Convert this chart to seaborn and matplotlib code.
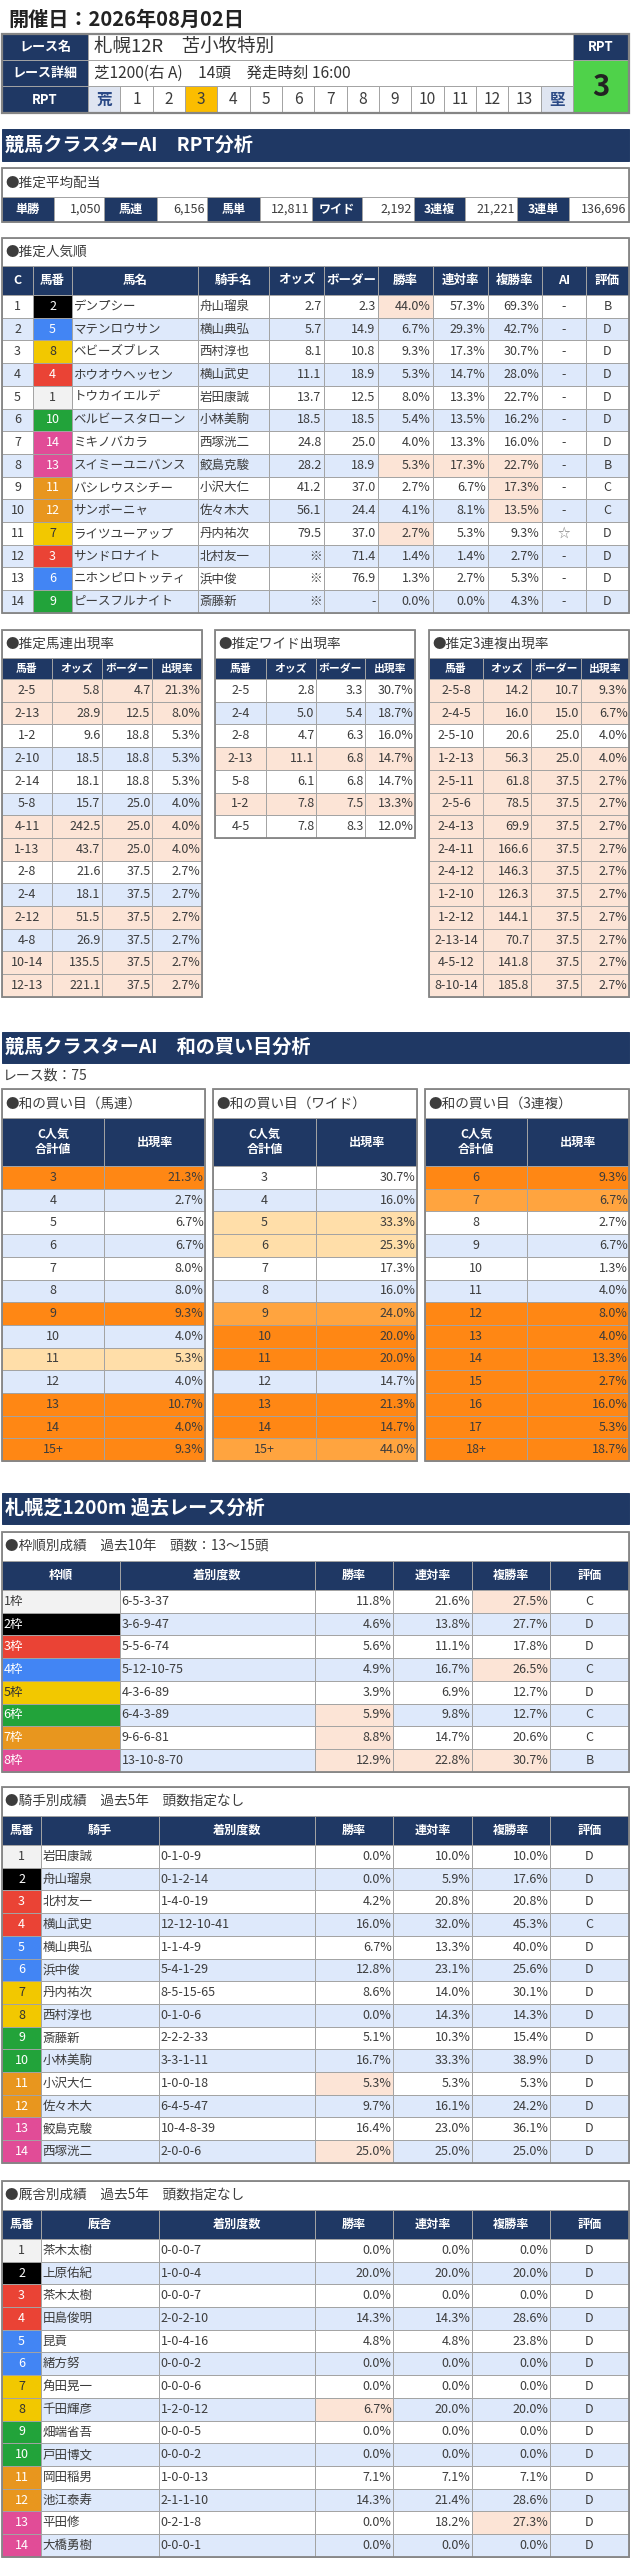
import matplotlib
matplotlib.use('Agg')
import matplotlib.pyplot as plt
from matplotlib.patches import Rectangle
import seaborn as sns

sns.set_theme(style='white')
plt.rcParams['font.family'] = ['Noto Sans CJK JP', 'DejaVu Sans']

# ---------------- data ----------------
race_date = '開催日：2026年08月02日'
race_name = '札幌12R　苫小牧特別'
race_detail = '芝1200(右 A)　14頭　発走時刻 16:00'
rpt_scale = ['荒', '1', '2', '3', '4', '5', '6', '7', '8', '9', '10', '11', '12', '13', '堅']
rpt_value = '3'

payout_labels = ['単勝', '馬連', '馬単', 'ワイド', '3連複', '3連単']
payout_values = [1050, 6156, 12811, 2192, 21221, 136696]

# 推定人気順
pop_umaban = [2, 5, 8, 4, 1, 10, 14, 13, 11, 12, 7, 3, 6, 9]
pop_names = ['デンプシー', 'マテンロウサン', 'ベビーズブレス', 'ホウオウヘッセン', 'トウカイエルデ',
             'ベルビースタローン', 'ミキノバカラ', 'スイミーユニバンス', 'バシレウスシチー', 'サンポーニャ',
             'ライツユーアップ', 'サンドロナイト', 'ニホンピロトッティ', 'ピースフルナイト']
pop_jockeys = ['舟山瑠泉', '横山典弘', '西村淳也', '横山武史', '岩田康誠', '小林美駒', '西塚洸二',
               '鮫島克駿', '小沢大仁', '佐々木大', '丹内祐次', '北村友一', '浜中俊', '斎藤新']
pop_odds = [2.7, 5.7, 8.1, 11.1, 13.7, 18.5, 24.8, 28.2, 41.2, 56.1, 79.5, None, None, None]
pop_border = [2.3, 14.9, 10.8, 18.9, 12.5, 18.5, 25.0, 18.9, 37.0, 24.4, 37.0, 71.4, 76.9, None]
pop_win = [44.0, 6.7, 9.3, 5.3, 8.0, 5.4, 4.0, 5.3, 2.7, 4.1, 2.7, 1.4, 1.3, 0.0]
pop_ren = [57.3, 29.3, 17.3, 14.7, 13.3, 13.5, 13.3, 17.3, 6.7, 8.1, 5.3, 1.4, 2.7, 0.0]
pop_fuku = [69.3, 42.7, 30.7, 28.0, 22.7, 16.2, 16.0, 22.7, 17.3, 13.5, 9.3, 2.7, 5.3, 4.3]
pop_ai = ['-', '-', '-', '-', '-', '-', '-', '-', '-', '-', '☆', '-', '-', '-']
pop_eval = ['B', 'D', 'D', 'D', 'D', 'D', 'D', 'B', 'C', 'C', 'D', 'D', 'D', 'D']
pop_mark = ['w', '', '', '', '', '', '', 'wrf', 'f', 'f', 'w', '', '', '']

# 推定馬連 / ワイド / 3連複 出現率
umaren_combo = ['2-5', '2-13', '1-2', '2-10', '2-14', '5-8', '4-11', '1-13', '2-8', '2-4',
                '2-12', '4-8', '10-14', '12-13']
umaren_odds = [5.8, 28.9, 9.6, 18.5, 18.1, 15.7, 242.5, 43.7, 21.6, 18.1, 51.5, 26.9, 135.5, 221.1]
umaren_border = [4.7, 12.5, 18.8, 18.8, 18.8, 25.0, 25.0, 25.0, 37.5, 37.5, 37.5, 37.5, 37.5, 37.5]
umaren_rate = [21.3, 8.0, 5.3, 5.3, 5.3, 4.0, 4.0, 4.0, 2.7, 2.7, 2.7, 2.7, 2.7, 2.7]

wide_combo = ['2-5', '2-4', '2-8', '2-13', '5-8', '1-2', '4-5']
wide_odds = [2.8, 5.0, 4.7, 11.1, 6.1, 7.8, 7.8]
wide_border = [3.3, 5.4, 6.3, 6.8, 6.8, 7.5, 8.3]
wide_rate = [30.7, 18.7, 16.0, 14.7, 14.7, 13.3, 12.0]

trio_combo = ['2-5-8', '2-4-5', '2-5-10', '1-2-13', '2-5-11', '2-5-6', '2-4-13', '2-4-11',
              '2-4-12', '1-2-10', '1-2-12', '2-13-14', '4-5-12', '8-10-14']
trio_odds = [14.2, 16.0, 20.6, 56.3, 61.8, 78.5, 69.9, 166.6, 146.3, 126.3, 144.1, 70.7, 141.8, 185.8]
trio_border = [10.7, 15.0, 25.0, 25.0, 37.5, 37.5, 37.5, 37.5, 37.5, 37.5, 37.5, 37.5, 37.5, 37.5]
trio_rate = [9.3, 6.7, 4.0, 4.0, 2.7, 2.7, 2.7, 2.7, 2.7, 2.7, 2.7, 2.7, 2.7, 2.7]

# 和の買い目 (level: 0 none, 1 light, 2 mid, 3 strong)
race_count = 75
sum_umaren = ['3', '4', '5', '6', '7', '8', '9', '10', '11', '12', '13', '14', '15+']
sum_umaren_rate = [21.3, 2.7, 6.7, 6.7, 8.0, 8.0, 9.3, 4.0, 5.3, 4.0, 10.7, 4.0, 9.3]
sum_umaren_lvl = [3, 0, 0, 0, 0, 0, 3, 0, 1, 0, 3, 3, 3]
sum_wide = ['3', '4', '5', '6', '7', '8', '9', '10', '11', '12', '13', '14', '15+']
sum_wide_rate = [30.7, 16.0, 33.3, 25.3, 17.3, 16.0, 24.0, 20.0, 20.0, 14.7, 21.3, 14.7, 44.0]
sum_wide_lvl = [0, 0, 1, 1, 0, 0, 2, 3, 3, 0, 3, 3, 2]
sum_trio = ['6', '7', '8', '9', '10', '11', '12', '13', '14', '15', '16', '17', '18+']
sum_trio_rate = [9.3, 6.7, 2.7, 6.7, 1.3, 4.0, 8.0, 4.0, 13.3, 2.7, 16.0, 5.3, 18.7]
sum_trio_lvl = [3, 2, 0, 0, 0, 0, 3, 3, 3, 3, 3, 3, 3]

# 枠順別成績
waku_record = ['6-5-3-37', '3-6-9-47', '5-5-6-74', '5-12-10-75', '4-3-6-89', '6-4-3-89',
               '9-6-6-81', '13-10-8-70']
waku_win = [11.8, 4.6, 5.6, 4.9, 3.9, 5.9, 8.8, 12.9]
waku_ren = [21.6, 13.8, 11.1, 16.7, 6.9, 9.8, 14.7, 22.8]
waku_fuku = [27.5, 27.7, 17.8, 26.5, 12.7, 12.7, 20.6, 30.7]
waku_eval = ['C', 'D', 'D', 'C', 'D', 'C', 'C', 'B']
waku_mark = ['f', '', '', 'f', '', 'w', 'w', 'wrf']

# 騎手別成績
jockey_names = ['岩田康誠', '舟山瑠泉', '北村友一', '横山武史', '横山典弘', '浜中俊', '丹内祐次',
                '西村淳也', '斎藤新', '小林美駒', '小沢大仁', '佐々木大', '鮫島克駿', '西塚洸二']
jockey_record = ['0-1-0-9', '0-1-2-14', '1-4-0-19', '12-12-10-41', '1-1-4-9', '5-4-1-29',
                 '8-5-15-65', '0-1-0-6', '2-2-2-33', '3-3-1-11', '1-0-0-18', '6-4-5-47',
                 '10-4-8-39', '2-0-0-6']
jockey_win = [0.0, 0.0, 4.2, 16.0, 6.7, 12.8, 8.6, 0.0, 5.1, 16.7, 5.3, 9.7, 16.4, 25.0]
jockey_ren = [10.0, 5.9, 20.8, 32.0, 13.3, 23.1, 14.0, 14.3, 10.3, 33.3, 5.3, 16.1, 23.0, 25.0]
jockey_fuku = [10.0, 17.6, 20.8, 45.3, 40.0, 25.6, 30.1, 14.3, 15.4, 38.9, 5.3, 24.2, 36.1, 25.0]
jockey_eval = ['D', 'D', 'D', 'C', 'D', 'D', 'D', 'D', 'D', 'D', 'D', 'D', 'D', 'D']
jockey_mark = ['', '', '', '', '', '', '', '', '', '', 'w', '', '', 'w']

# 厩舎別成績
trainer_names = ['茶木太樹', '上原佑紀', '茶木太樹', '田島俊明', '昆貢', '緒方努', '角田晃一',
                 '千田輝彦', '畑端省吾', '戸田博文', '岡田稲男', '池江泰寿', '平田修', '大橋勇樹']
trainer_record = ['0-0-0-7', '1-0-0-4', '0-0-0-7', '2-0-2-10', '1-0-4-16', '0-0-0-2', '0-0-0-6',
                  '1-2-0-12', '0-0-0-5', '0-0-0-2', '1-0-0-13', '2-1-1-10', '0-2-1-8', '0-0-0-1']
trainer_win = [0.0, 20.0, 0.0, 14.3, 4.8, 0.0, 0.0, 6.7, 0.0, 0.0, 7.1, 14.3, 0.0, 0.0]
trainer_ren = [0.0, 20.0, 0.0, 14.3, 4.8, 0.0, 0.0, 20.0, 0.0, 0.0, 7.1, 21.4, 18.2, 0.0]
trainer_fuku = [0.0, 20.0, 0.0, 28.6, 23.8, 0.0, 0.0, 20.0, 0.0, 0.0, 7.1, 28.6, 27.3, 0.0]
trainer_eval = ['D'] * 14
trainer_mark = ['', '', '', '', '', '', '', 'w', '', '', '', '', 'f', '']

# ---------------- style ----------------
NAVY = '#1f3864'
ROW_BLUE = '#dee9fb'
PINK = '#fce4d6'
GRID = '#a3a3a3'
BORDER = '#858585'
TEXT = '#3c3c3c'
ORANGES = {1: '#ffdea9', 2: '#ffa43f', 3: '#ff8714'}
FRAME_BG = {1: '#f2f2f2', 2: '#000000', 3: '#ea4335', 4: '#4285f4',
            5: '#f2c800', 6: '#22a33a', 7: '#e8961e', 8: '#e14c97'}
FRAME_FG = {1: TEXT, 2: 'white', 3: 'white', 4: 'white', 5: '#333333',
            6: 'white', 7: 'white', 8: 'white'}
horse_frame = {1: 1, 2: 2, 3: 3, 4: 3, 5: 4, 6: 4, 7: 5, 8: 5,
               9: 6, 10: 6, 11: 7, 12: 7, 13: 8, 14: 8}
ROW_H = 22.7
FS = 9.0
HFS = 8.7
RIGHT = 629

fig = plt.figure(figsize=(6.31, 25.6), dpi=100)
fig.patch.set_facecolor('white')
ax = fig.add_axes([0, 0, 1, 1])
ax.set_xlim(0, 631)
ax.set_ylim(2560, 0)
ax.axis('off')


def cell(x0, x1, y0, y1, fc='white', txt=None, ha='center', tc=TEXT, fs=FS,
         bold=False, ec=GRID, lw=0.7, pad=2.5):
    ax.add_patch(Rectangle((x0, y0), x1 - x0, y1 - y0, facecolor=fc,
                           edgecolor=ec, linewidth=lw))
    if txt is None:
        return
    tx = {'center': (x0 + x1) / 2, 'left': x0 + pad, 'right': x1 - pad}[ha]
    ax.text(tx, (y0 + y1) / 2, txt, ha=ha, va='center', color=tc, fontsize=fs,
            fontweight='bold' if bold else 'normal', linespacing=1.3)


def frame_box(x0, x1, y0, y1, lw=1.3):
    ax.add_patch(Rectangle((x0, y0), x1 - x0, y1 - y0, facecolor='none',
                           edgecolor=BORDER, linewidth=lw, zorder=5))


def box_title(x0, x1, y0, y1, txt, fs=9.8):
    cell(x0, x1, y0, y1, 'white', txt, 'left', TEXT, fs, pad=3)


def header(edges, y0, y1, labels, fs=HFS):
    for j, lab in enumerate(labels):
        cell(edges[j], edges[j + 1], y0, y1, NAVY, lab, 'center', 'white', fs, True)


def section_bar(y0, y1, txt):
    cell(2, RIGHT, y0, y1, NAVY, txt, 'left', 'white', 13.8, True, ec=NAVY, pad=3)


def pct(v):
    return f'{v:.1f}%'


def num(v):
    return '※' if v is None else f'{v:.1f}'


# ---------------- race info ----------------
ax.text(8, 19, race_date, ha='left', va='center', fontsize=14.5, fontweight='bold', color='#222222')

L0, L1, R0, R1 = 2, 88, 573, RIGHT
cell(L0, L1, 34, 60, NAVY, 'レース名', tc='white', fs=9.4, bold=True)
cell(L0, L1, 60, 86, NAVY, 'レース詳細', tc='white', fs=9.4, bold=True)
cell(L0, L1, 86, 113, NAVY, 'RPT', tc='white', fs=9.4, bold=True)
cell(L1, R0, 34, 60, 'white', race_name, 'left', '#333333', 13.3, pad=6)
cell(L1, R0, 60, 86, 'white', race_detail, 'left', '#333333', 11.2, pad=6)
sw = (R0 - L1) / len(rpt_scale)
for k, s in enumerate(rpt_scale):
    is_end = s in ('荒', '堅')
    if s == rpt_value:
        fc = '#fbbd00'
    elif is_end:
        fc = '#dfe5f1'
    else:
        fc = 'white'
    cell(L1 + k * sw, L1 + (k + 1) * sw, 86, 113, fc, s, 'center',
         '#2b4a86' if is_end else TEXT, 11.2, bold=is_end)
cell(R0, R1, 34, 60, NAVY, 'RPT', tc='white', fs=9.4, bold=True)
cell(R0, R1, 60, 113, '#4fd24a', rpt_value, tc='#222222', fs=21, bold=True)
frame_box(L0, R1, 34, 113, lw=1.6)

# ---------------- RPT analysis ----------------
section_bar(129, 161, '競馬クラスターAI　RPT分析')

box_title(2, RIGHT, 168, 197, '●推定平均配当')
pay_edges = [2, 54, 104, 157, 207, 260, 312, 362, 414, 465, 517, 569, RIGHT]
for k, (lab, val) in enumerate(zip(payout_labels, payout_values)):
    cell(pay_edges[2 * k], pay_edges[2 * k + 1], 197, 222, NAVY, lab, tc='white', fs=HFS, bold=True)
    cell(pay_edges[2 * k + 1], pay_edges[2 * k + 2], 197, 222, 'white', f'{val:,}', 'right', TEXT, FS)
frame_box(2, RIGHT, 168, 222)

# 推定人気順
box_title(2, RIGHT, 238, 266, '●推定人気順')
pop_edges = [2, 33, 72, 198, 269, 324, 378, 433, 488, 542, 586, RIGHT]
header(pop_edges, 266, 295, ['C', '馬番', '馬名', '騎手名', 'オッズ', 'ボーダー',
                             '勝率', '連対率', '複勝率', 'AI', '評価'], fs=9.0)
aligns = ['center', 'center', 'left', 'left', 'right', 'right', 'right', 'right', 'right',
          'center', 'center']
y = 295
for i in range(len(pop_names)):
    base = 'white' if i % 2 == 0 else ROW_BLUE
    fr = horse_frame[pop_umaban[i]]
    vals = [str(i + 1), str(pop_umaban[i]), pop_names[i], pop_jockeys[i], num(pop_odds[i]),
            '-' if pop_border[i] is None else f'{pop_border[i]:.1f}',
            pct(pop_win[i]), pct(pop_ren[i]), pct(pop_fuku[i]), pop_ai[i], pop_eval[i]]
    for j, v in enumerate(vals):
        fc, tc = base, TEXT
        if j == 1:
            fc, tc = FRAME_BG[fr], FRAME_FG[fr]
        if (j == 6 and 'w' in pop_mark[i]) or (j == 7 and 'r' in pop_mark[i]) or \
                (j == 8 and 'f' in pop_mark[i]):
            fc = PINK
        if j == 9 and v == '☆':
            tc = '#888888'
        cell(pop_edges[j], pop_edges[j + 1], y, y + ROW_H, fc, v, aligns[j], tc, FS,
             pad=1.5 if j in (2, 3) else 2.5)
    y += ROW_H
frame_box(2, RIGHT, 238, y)

# 推定 出現率 boxes
small_boxes = [
    ([2, 52, 102, 152, 202], '●推定馬連出現率', umaren_combo, umaren_odds, umaren_border, umaren_rate),
    ([215, 266, 316, 365, 415], '●推定ワイド出現率', wide_combo, wide_odds, wide_border, wide_rate),
    ([429, 483, 531, 581, RIGHT], '●推定3連複出現率', trio_combo, trio_odds, trio_border, trio_rate),
]
for edges, title, combo, odds, border, rate in small_boxes:
    box_title(edges[0], edges[-1], 630, 658, title)
    header(edges, 658, 679, ['馬番', 'オッズ', 'ボーダー', '出現率'], fs=7.8)
    y = 679
    for i in range(len(combo)):
        fc = PINK if odds[i] > border[i] else ('white' if i % 2 == 0 else ROW_BLUE)
        vals = [combo[i], f'{odds[i]:.1f}', f'{border[i]:.1f}', pct(rate[i])]
        for j, v in enumerate(vals):
            cell(edges[j], edges[j + 1], y, y + ROW_H, fc, v,
                 'center' if j == 0 else 'right', TEXT, FS, pad=1.5)
        y += ROW_H
    frame_box(edges[0], edges[-1], 630, y)

# ---------------- sum analysis ----------------
section_bar(1032, 1063, '競馬クラスターAI　和の買い目分析')
ax.text(3, 1076, f'レース数：{race_count}', ha='left', va='center', fontsize=10, color=TEXT)

sum_boxes = [
    ([2, 104, 205], '●和の買い目（馬連）', sum_umaren, sum_umaren_rate, sum_umaren_lvl),
    ([213, 316, 417], '●和の買い目（ワイド）', sum_wide, sum_wide_rate, sum_wide_lvl),
    ([425, 527, RIGHT], '●和の買い目（3連複）', sum_trio, sum_trio_rate, sum_trio_lvl),
]
for edges, title, sums, rates, lvls in sum_boxes:
    box_title(edges[0], edges[-1], 1089, 1118, title)
    header(edges, 1118, 1166, ['C人気\n合計値', '出現率'], fs=HFS)
    y = 1166
    for i in range(len(sums)):
        fc = ORANGES[lvls[i]] if lvls[i] else ('white' if i % 2 == 0 else ROW_BLUE)
        cell(edges[0], edges[1], y, y + ROW_H, fc, sums[i], 'center', TEXT, FS)
        cell(edges[1], edges[2], y, y + ROW_H, fc, pct(rates[i]), 'right', TEXT, FS, pad=1.5)
        y += ROW_H
    frame_box(edges[0], edges[-1], 1089, y)

# ---------------- past races ----------------
section_bar(1493, 1524, '札幌芝1200m 過去レース分析')


def stats_rows(edges, y, first_cells, second, record, win, ren, fuku, ev, mark, first_align):
    for i in range(len(record)):
        base = 'white' if i % 2 == 0 else ROW_BLUE
        col = 0
        for (txt, fc, tc) in first_cells[i]:
            cell(edges[col], edges[col + 1], y, y + ROW_H, fc, txt, first_align[col], tc, FS, pad=1.5)
            col += 1
        if second is not None:
            cell(edges[col], edges[col + 1], y, y + ROW_H, base, second[i], 'left', TEXT, FS, pad=1.5)
            col += 1
        cell(edges[col], edges[col + 1], y, y + ROW_H, base, record[i], 'left', TEXT, FS, pad=1.5)
        col += 1
        for key, vals in (('w', win), ('r', ren), ('f', fuku)):
            fc = PINK if key in mark[i] else base
            cell(edges[col], edges[col + 1], y, y + ROW_H, fc, pct(vals[i]), 'right', TEXT, FS, pad=1.5)
            col += 1
        cell(edges[col], edges[col + 1], y, y + ROW_H, base, ev[i], 'center', TEXT, FS)
        y += ROW_H
    return y


# 枠順別成績
waku_edges = [2, 120, 315, 393, 472, 550, RIGHT]
box_title(2, RIGHT, 1532, 1561, '●枠順別成績　過去10年　頭数：13～15頭')
header(waku_edges, 1561, 1590, ['枠順', '着別度数', '勝率', '連対率', '複勝率', '評価'])
waku_first = [[(f'{k + 1}枠', FRAME_BG[k + 1], FRAME_FG[k + 1])] for k in range(len(waku_record))]
y = stats_rows(waku_edges, 1590, waku_first, None, waku_record, waku_win, waku_ren, waku_fuku,
               waku_eval, waku_mark, ['left'])
frame_box(2, RIGHT, 1532, y)

# 騎手別成績 / 厩舎別成績
person_edges = [2, 41, 159, 315, 393, 472, 550, RIGHT]
person_tables = [
    (1787, '●騎手別成績　過去5年　頭数指定なし', '騎手', jockey_names, jockey_record,
     jockey_win, jockey_ren, jockey_fuku, jockey_eval, jockey_mark),
    (2181, '●厩舎別成績　過去5年　頭数指定なし', '厩舎', trainer_names, trainer_record,
     trainer_win, trainer_ren, trainer_fuku, trainer_eval, trainer_mark),
]
for top, title, who, names, record, win, ren, fuku, ev, mark in person_tables:
    box_title(2, RIGHT, top, top + 29, title)
    header(person_edges, top + 29, top + 58, ['馬番', who, '着別度数', '勝率', '連対率', '複勝率', '評価'])
    first = [[(str(n), FRAME_BG[horse_frame[n]], FRAME_FG[horse_frame[n]])]
             for n in range(1, len(names) + 1)]
    y = stats_rows(person_edges, top + 58, first, names, record, win, ren, fuku, ev, mark, ['center'])
    frame_box(2, RIGHT, top, y)

fig.savefig('out.png', dpi=100, facecolor='white')
